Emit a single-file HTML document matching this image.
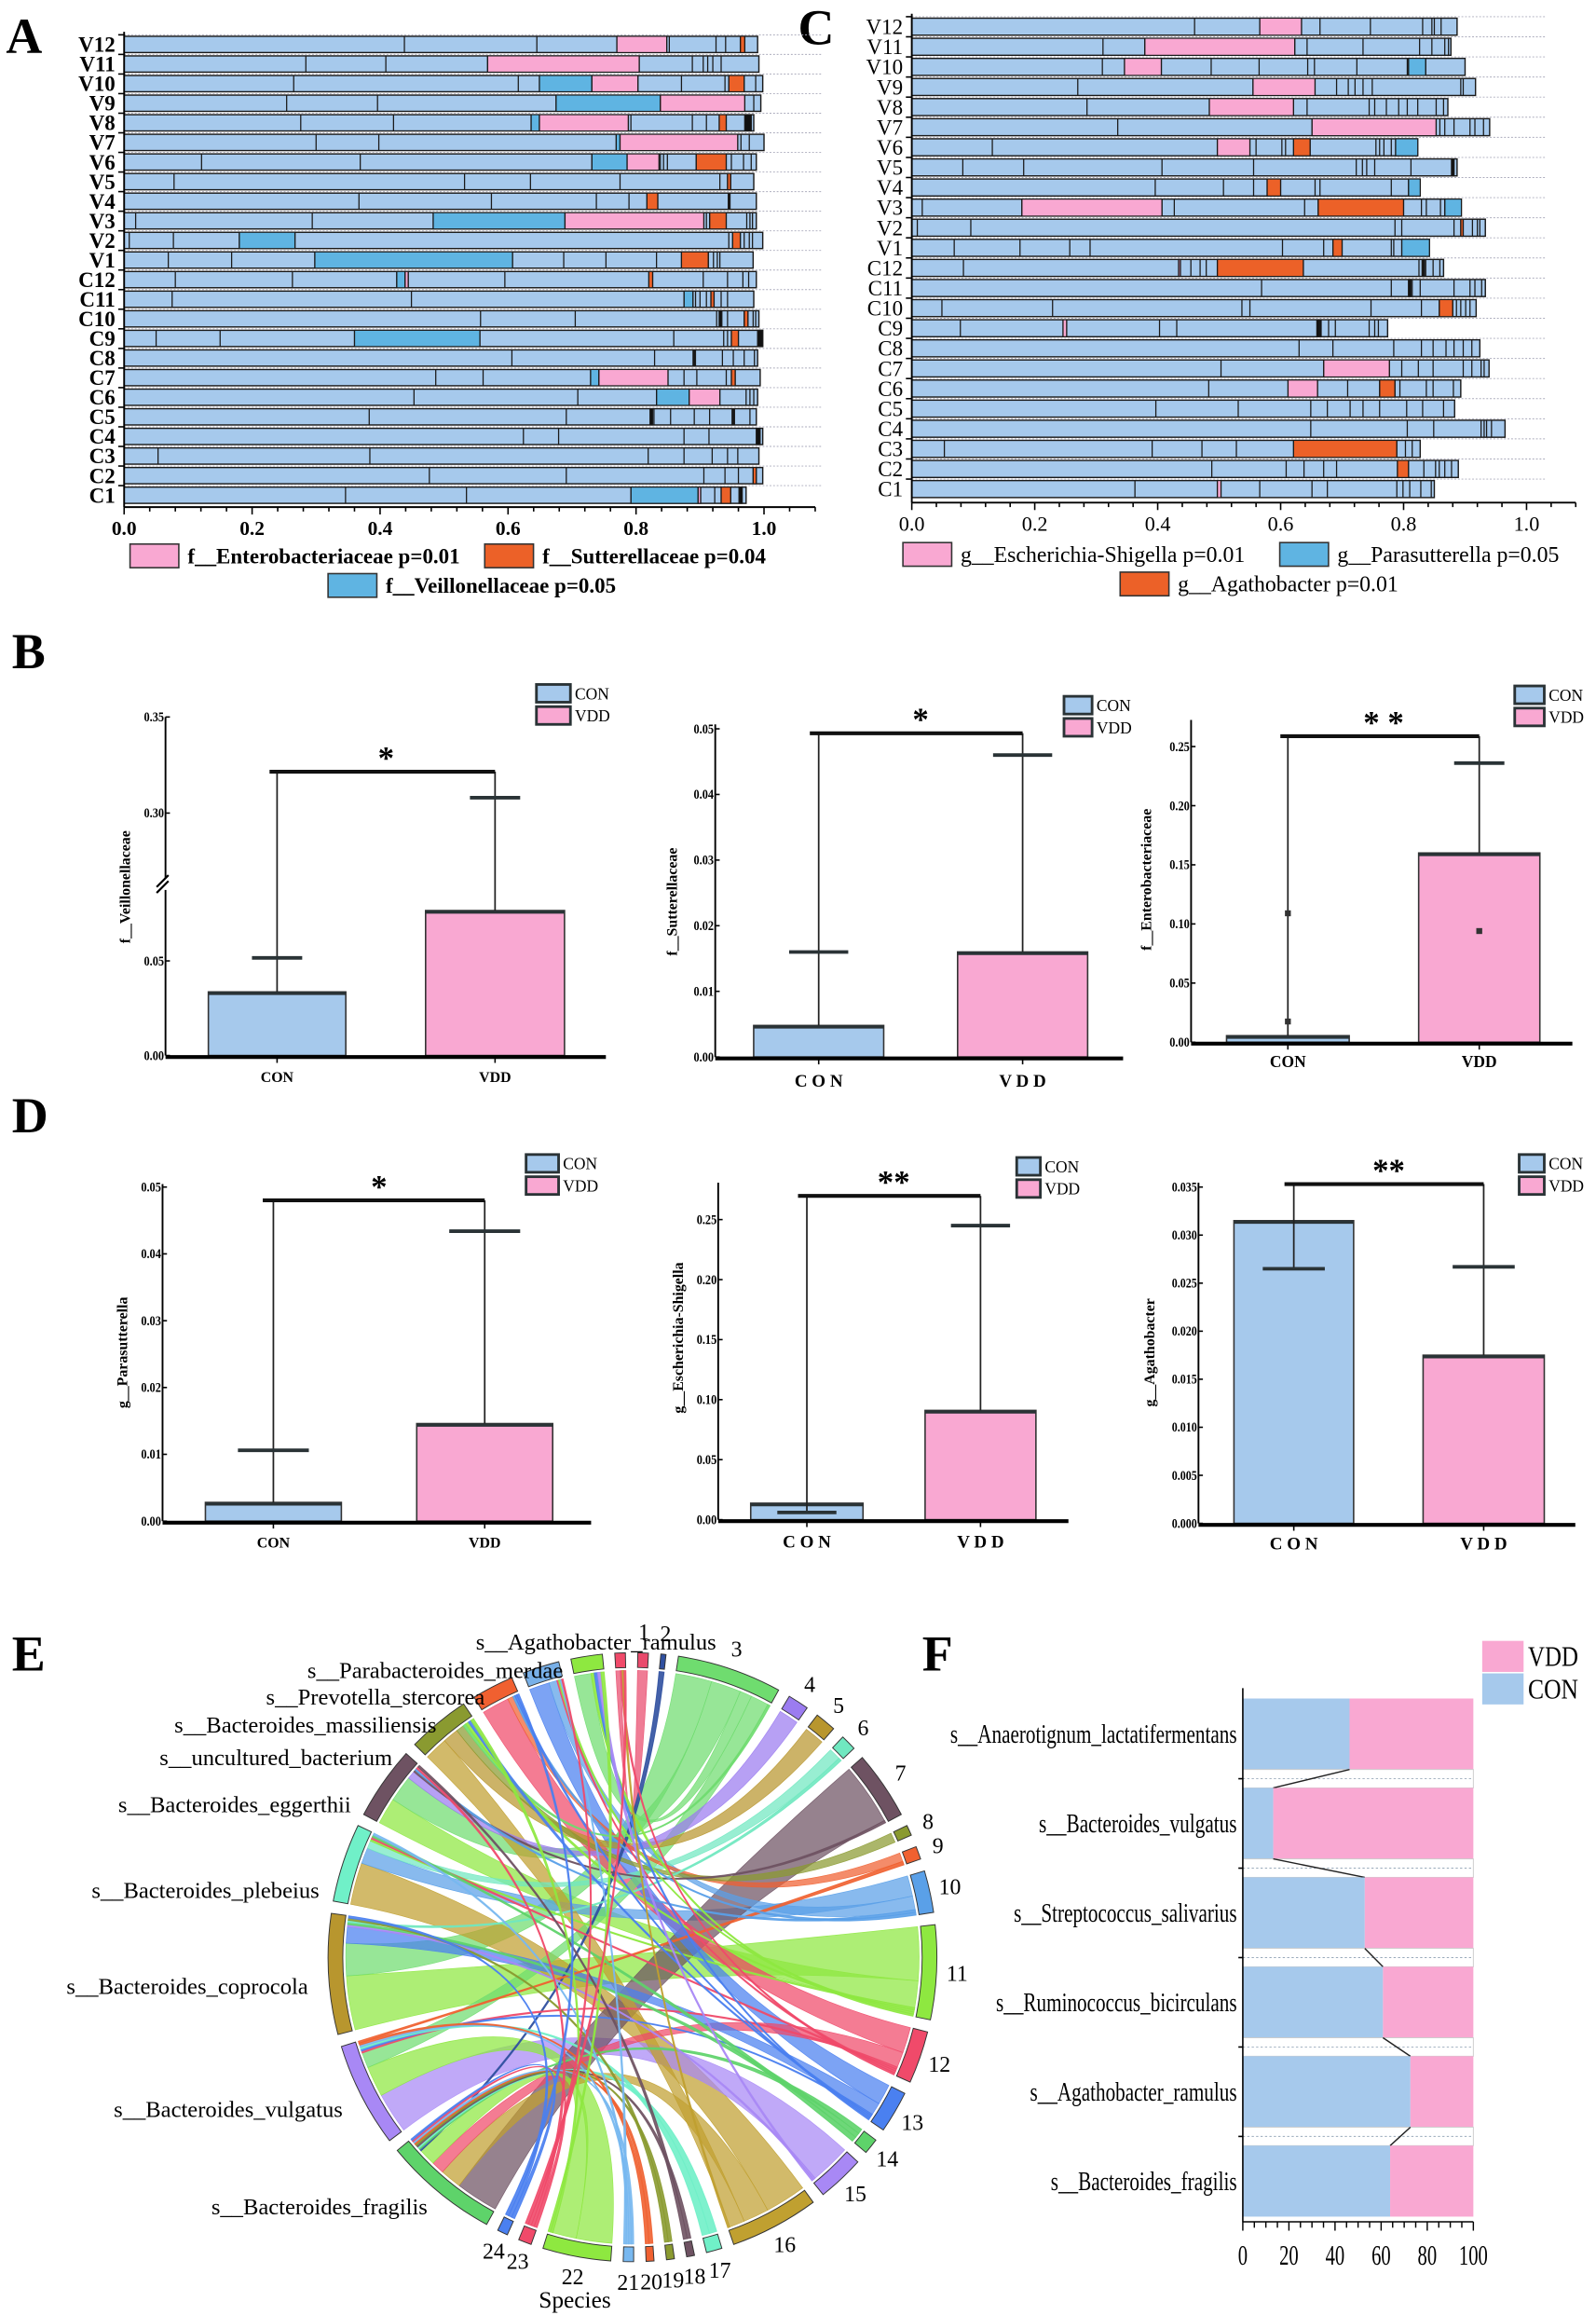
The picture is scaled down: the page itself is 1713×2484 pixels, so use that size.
<!DOCTYPE html>
<html><head><meta charset="utf-8"><title>Figure</title>
<style>
html,body{margin:0;padding:0;background:#fff;}
svg{display:block;font-family:"Liberation Serif",serif;}
</style></head>
<body>
<svg id="fig" xmlns="http://www.w3.org/2000/svg" width="1713" height="2484" viewBox="0 0 1080 1566">
<rect x="0" y="0" width="1080" height="1566" fill="#fff"/>
</svg>
<script>
// ---------------- Panel A data ----------------
const rowsA = ['V12','V11','V10','V9','V8','V7','V6','V5','V4','V3','V2','V1','C12','C11','C10','C9','C8','C7','C6','C5','C4','C3','C2','C1'];
const endA = [0.99,0.992,0.998,0.995,0.984,1.0,0.988,0.984,0.988,0.988,0.998,0.983,0.988,0.984,0.992,0.998,0.99,0.994,0.99,0.988,0.998,0.992,0.998,0.972];
const cutsA = [
 [0.438,0.645,0.77,0.848,0.852,0.925,0.94,0.963,0.97],
 [0.284,0.409,0.568,0.805,0.888,0.905,0.912,0.92,0.933],
 [0.265,0.616,0.649,0.731,0.803,0.871,0.939,0.945,0.969,0.987],
 [0.254,0.396,0.675,0.838,0.97,0.984],
 [0.276,0.421,0.636,0.649,0.788,0.792,0.888,0.91,0.93,0.941,0.97,0.98],
 [0.3,0.398,0.769,0.775,0.959,0.964,0.977],
 [0.121,0.369,0.731,0.786,0.836,0.838,0.843,0.849,0.894,0.941,0.949,0.968,0.98],
 [0.078,0.532,0.635,0.775,0.931,0.943,0.948],
 [0.367,0.574,0.738,0.789,0.817,0.834,0.945],
 [0.018,0.294,0.483,0.689,0.906,0.91,0.915,0.941,0.973,0.978,0.982],
 [0.008,0.077,0.18,0.267,0.945,0.951,0.963,0.969,0.977,0.982],
 [0.069,0.168,0.298,0.607,0.687,0.753,0.832,0.871,0.913,0.921,0.927,0.931],
 [0.08,0.263,0.426,0.439,0.444,0.595,0.82,0.826,0.905,0.943,0.967,0.976],
 [0.075,0.449,0.875,0.889,0.893,0.9,0.91,0.917,0.922,0.933,0.943],
 [0.557,0.705,0.926,0.93,0.934,0.943,0.969,0.975,0.983,0.987],
 [0.05,0.15,0.36,0.556,0.859,0.937,0.943,0.949,0.96,0.99],
 [0.606,0.829,0.891,0.935,0.952,0.969,0.985],
 [0.487,0.561,0.729,0.742,0.85,0.875,0.895,0.941,0.949,0.955],
 [0.453,0.709,0.832,0.883,0.931,0.972,0.978,0.984],
 [0.383,0.691,0.822,0.828,0.854,0.891,0.915,0.952,0.978],
 [0.624,0.679,0.875,0.914,0.988],
 [0.053,0.384,0.819,0.875,0.919,0.943,0.959],
 [0.477,0.691,0.906,0.939,0.96,0.983,0.988],
 [0.346,0.535,0.792,0.897,0.901,0.923,0.933,0.948,0.961]
];
const hiA = [
 [['p',0.77,0.848],['o',0.963,0.97]],
 [['p',0.568,0.805]],
 [['b',0.649,0.731],['p',0.731,0.803],['o',0.945,0.969]],
 [['b',0.675,0.838],['p',0.838,0.97]],
 [['b',0.636,0.649],['p',0.649,0.788],['o',0.93,0.941],['k',0.97,0.98]],
 [['b',0.769,0.775],['p',0.775,0.959]],
 [['b',0.731,0.786],['p',0.786,0.836],['o',0.894,0.941]],
 [['o',0.943,0.948]],
 [['o',0.817,0.834],['k',0.944,0.947]],
 [['b',0.483,0.689],['p',0.689,0.906],['o',0.915,0.941]],
 [['b',0.18,0.267],['o',0.951,0.963]],
 [['b',0.298,0.607],['o',0.871,0.913]],
 [['b',0.426,0.439],['p',0.439,0.444],['o',0.82,0.826]],
 [['b',0.875,0.889],['o',0.917,0.922]],
 [['k',0.93,0.934],['o',0.969,0.975]],
 [['b',0.36,0.556],['o',0.949,0.96],['k',0.99,0.998]],
 [['k',0.889,0.893]],
 [['b',0.729,0.742],['p',0.742,0.85],['o',0.949,0.955]],
 [['b',0.832,0.883],['p',0.883,0.931]],
 [['k',0.822,0.826],['k',0.95,0.954]],
 [['k',0.988,0.994]],
 [],
 [['o',0.983,0.988]],
 [['b',0.792,0.897],['p',0.897,0.901],['o',0.933,0.948],['k',0.961,0.966]]
];
// ---------------- Panel C data ----------------
const endC = [0.887,0.877,0.9,0.917,0.872,0.94,0.823,0.887,0.827,0.894,0.933,0.842,0.865,0.933,0.918,0.774,0.924,0.939,0.893,0.883,0.965,0.827,0.889,0.85];
const cutsC = [
 [0.46,0.566,0.634,0.664,0.746,0.831,0.846,0.85,0.861],
 [0.311,0.379,0.623,0.643,0.734,0.826,0.846,0.867,0.873],
 [0.31,0.346,0.406,0.487,0.565,0.644,0.655,0.724,0.806,0.808,0.836],
 [0.27,0.555,0.656,0.691,0.71,0.721,0.734,0.749,0.893,0.897],
 [0.285,0.484,0.621,0.643,0.744,0.753,0.772,0.792,0.806,0.823,0.853,0.865],
 [0.335,0.651,0.853,0.859,0.867,0.882,0.908,0.916,0.93],
 [0.131,0.497,0.55,0.56,0.602,0.608,0.621,0.648,0.755,0.761,0.768,0.78,0.787],
 [0.083,0.182,0.407,0.556,0.723,0.733,0.74,0.753,0.812,0.878,0.882],
 [0.396,0.507,0.556,0.578,0.6,0.656,0.664,0.78,0.808],
 [0.017,0.179,0.407,0.427,0.639,0.661,0.8,0.829,0.837,0.86,0.867],
 [0.009,0.096,0.786,0.797,0.882,0.893,0.897,0.912,0.92,0.924],
 [0.069,0.176,0.257,0.29,0.603,0.67,0.685,0.7,0.78,0.784,0.797],
 [0.084,0.434,0.437,0.454,0.469,0.479,0.497,0.637,0.825,0.831,0.836,0.848,0.859],
 [0.569,0.78,0.808,0.814,0.827,0.882,0.908,0.916,0.927],
 [0.049,0.229,0.537,0.55,0.747,0.829,0.858,0.88,0.886,0.893,0.901,0.908],
 [0.079,0.246,0.252,0.403,0.431,0.659,0.663,0.678,0.689,0.744,0.753,0.759],
 [0.63,0.685,0.784,0.829,0.848,0.869,0.882,0.897,0.911],
 [0.503,0.67,0.777,0.797,0.824,0.848,0.897,0.911,0.926,0.931],
 [0.483,0.612,0.66,0.709,0.761,0.786,0.794,0.837,0.848,0.881],
 [0.397,0.531,0.649,0.676,0.713,0.734,0.761,0.805,0.831,0.865],
 [0.649,0.806,0.849,0.926,0.931,0.935,0.943],
 [0.053,0.391,0.472,0.528,0.621,0.789,0.803,0.814],
 [0.488,0.609,0.638,0.67,0.691,0.79,0.808,0.833,0.852,0.858,0.867,0.878],
 [0.363,0.497,0.503,0.566,0.651,0.676,0.789,0.799,0.81,0.828,0.845]
];
const hiC = [
 [['p',0.566,0.634]],
 [['p',0.379,0.623]],
 [['p',0.346,0.406],['b',0.808,0.836]],
 [['p',0.555,0.656]],
 [['p',0.484,0.621]],
 [['p',0.651,0.853]],
 [['p',0.497,0.55],['o',0.621,0.648],['b',0.787,0.823]],
 [['k',0.878,0.882]],
 [['o',0.578,0.6],['b',0.808,0.827]],
 [['p',0.179,0.407],['o',0.661,0.8],['b',0.867,0.894]],
 [['o',0.893,0.897]],
 [['o',0.685,0.7],['b',0.797,0.842]],
 [['p',0.434,0.437],['o',0.497,0.637],['k',0.83,0.834]],
 [['k',0.808,0.812]],
 [['o',0.858,0.88]],
 [['p',0.246,0.252],['k',0.659,0.666]],
 [],
 [['p',0.67,0.777]],
 [['p',0.612,0.66],['o',0.761,0.786]],
 [],
 [],
 [['o',0.621,0.789]],
 [['o',0.79,0.808]],
 [['p',0.497,0.503]]
];
// ---------------- Panel B / D data ----------------
const groups = ['CON','VDD'];
const b1Means = [0.0336,0.0766];
const b1Caps = [0.0516,0.308];
const b1Ticks = [0,0.05,0.30,0.35];
const b1TickLabels = ['0.00','0.05','0.30','0.35'];
const b2Means = [0.0048,0.016];
const b2Caps = [0.016,0.046];
const b2Ticks = [0,0.01,0.02,0.03,0.04,0.05];
const b2TickLabels = ['0.00','0.01','0.02','0.03','0.04','0.05'];
const b3Means = [0.0055,0.16];
const b3Caps = [null,0.236];
const b3PointGroup = [0,0,1];
const b3PointValue = [0.109,0.0175,0.094];
const b3Ticks = [0,0.05,0.10,0.15,0.20,0.25];
const b3TickLabels = ['0.00','0.05','0.10','0.15','0.20','0.25'];
const d1Means = [0.0028,0.0146];
const d1Caps = [0.0106,0.0434];
const d1Ticks = [0,0.01,0.02,0.03,0.04,0.05];
const d1TickLabels = ['0.00','0.01','0.02','0.03','0.04','0.05'];
const d2Means = [0.0137,0.091];
const d2Caps = [0.006,0.245];
const d2Ticks = [0,0.05,0.10,0.15,0.20,0.25];
const d2TickLabels = ['0.00','0.05','0.10','0.15','0.20','0.25'];
const d3Means = [0.0315,0.0175];
const d3Caps = [0.0265,0.0267];
const d3Ticks = [0,0.005,0.010,0.015,0.020,0.025,0.030,0.035];
const d3TickLabels = ['0.000','0.005','0.010','0.015','0.020','0.025','0.030','0.035'];
// ---------------- Panel E data ----------------
const chordNumbers = ['1','2','3','4','5','6','7','8','9','10','11','12','13','14','15','16','17','18','19','20','21','22','23','24'];
const chordNumberSizes = [2,1,20,4,4,3,13,2,2.5,8,18,10,8,3,9,17,3,1.5,1.5,1.5,2,13,2.5,2];
const chordSpecies = ['s__Agathobacter_ramulus','s__Parabacteroides_merdae','s__Prevotella_stercorea','s__Bacteroides_massiliensis','s__uncultured_bacterium','s__Bacteroides_eggerthii','s__Bacteroides_plebeius','s__Bacteroides_coprocola','s__Bacteroides_vulgatus','s__Bacteroides_fragilis'];
const chordSpeciesSizes = [2,6,7,8,12,14,15,23,20,22];
const linkSrc = [7,5,7,5,6,6,8,8,9,9,3,2,4,1,8,9,7,4,2,6,5,9,0,3,4,
 9,9,9,9,9,9,9,9,9,8,8,8,8,8,8,7,7,7,7,7,6,6,6,6,5,5,5,5,4,4,4,4,3,3,3,2,2,2,2,1,1,1,1,0,0,0];
const linkTgt = [11,11,3,3,16,10,15,22,7,16,12,13,16,3,3,12,13,5,10,6,4,22,1,9,8,
 2,14,17,18,19,20,21,23,24,12,13,17,21,20,9,15,14,6,19,24,11,12,14,21,7,10,23,18,3,11,13,22,10,13,24,12,11,21,23,11,13,15,22,12,16,23];
const linkVal = [10,5,6,5,8,3,8,6,10,5,5,5,3,2,3,3,3,2,2,1.5,1.5,4,1,1,1,
 0.4,0.4,0.4,0.4,0.4,0.4,0.4,0.4,0.4,0.4,0.4,0.4,0.4,0.4,0.4,0.4,0.4,0.4,0.4,0.4,0.4,0.4,0.4,0.4,0.4,0.4,0.4,0.4,0.4,0.4,0.4,0.4,0.4,0.4,0.4,0.4,0.4,0.4,0.4,0.4,0.4,0.4,0.4,0.4,0.4,0.4];
// ---------------- Panel F data ----------------
const fSpecies = ['s__Anaerotignum_lactatifermentans','s__Bacteroides_vulgatus','s__Streptococcus_salivarius','s__Ruminococcus_bicirculans','s__Agathobacter_ramulus','s__Bacteroides_fragilis'];
const fCon = [46.3,13.2,52.9,60.8,72.7,63.9];
const fTicks = [0,20,40,60,80,100];

// ---------------- helpers ----------------
const NS='http://www.w3.org/2000/svg';
const svg=document.getElementById('fig');
function mk(tag,a,parent){const e=document.createElementNS(NS,tag);for(const k in a)e.setAttribute(k,a[k]);(parent||svg).appendChild(e);return e;}
function tx(s,a,parent){const e=mk('text',a,parent);e.textContent=s;return e;}
const segColor={p:'#f9a8d2',o:'#ec6128',b:'#5fb4e2',k:'#111'};
const LB='#a6c9ec', PK='#f9a8d2';

// panel letters
[['A',4,36],['C',540,30],['B',8,452],['D',8,766],['E',8,1130],['F',624,1130]].forEach(p=>{
  const t=tx(p[0],{x:p[1],y:p[2],'font-size':34,'font-weight':'bold',fill:'#000'});
  
  
});

// ---------------- stacked bars ----------------
function drawStack(cfg,rows,ends,cuts,his){
  const g=mk('g',{});
  
  
  const sx=v=>cfg.x0+v*(cfg.x1-cfg.x0);
  rows.forEach((r,i)=>{
    const yc=cfg.y0+i*cfg.dy, top=yc-cfg.h/2;
    const dl=mk('line',{x1:sx(0),x2:cfg.gridEnd,y1:top-1,y2:top-1,stroke:'#aab','stroke-width':0.6,'stroke-dasharray':'1.2,1.2'},g);
    
    
    const bar=mk('rect',{x:sx(0),y:top,width:sx(ends[i])-sx(0),height:cfg.h,fill:LB,stroke:'#1a1a1a','stroke-width':0.9},g);
    
    
    his[i].forEach(s=>{
      const sg=mk('rect',{x:sx(s[1]),y:top,width:Math.max(0.6,sx(s[2])-sx(s[1])),height:cfg.h,fill:segColor[s[0]],stroke:'#1a1a1a','stroke-width':0.7},g);
      
      
    });
    cuts[i].forEach(c=>{
      const ln=mk('line',{x1:sx(c),x2:sx(c),y1:top,y2:top+cfg.h,stroke:'#1a1a1a','stroke-width':0.8},g);
      
      
    });
    const lab=tx(r,{x:cfg.labelX,y:yc+5,'text-anchor':'end','font-size':cfg.labelSize,'font-weight':cfg.bold?'bold':'normal'},g);
    
    
    const tk=mk('line',{x1:sx(0)-4,x2:sx(0),y1:top-1,y2:top-1,stroke:'#000','stroke-width':1},g);
    
    
  });
  const ax=mk('line',{x1:sx(0),x2:sx(0),y1:cfg.y0-cfg.h/2-3,y2:cfg.axisY,stroke:'#000','stroke-width':1.2},g);
  
  
  const bx=mk('line',{x1:sx(0),x2:sx(cfg.axisMax),y1:cfg.axisY,y2:cfg.axisY,stroke:'#000','stroke-width':1.2},g);
  
  
  for(let v=0;v<=cfg.axisMax+1e-9;v+=0.04){
    const major=Math.abs(v/0.2-Math.round(v/0.2))<1e-6;
    const t=mk('line',{x1:sx(v),x2:sx(v),y1:cfg.axisY,y2:cfg.axisY+(major?5:3),stroke:'#000','stroke-width':1},g);
    
    
  }
  [0,0.2,0.4,0.6,0.8,1.0].forEach(v=>{
    const t=tx(v.toFixed(1),{x:sx(v),y:cfg.axisY+19,'text-anchor':'middle','font-size':cfg.tickSize,'font-weight':cfg.bold?'bold':'normal'},g);
    
    
  });
  cfg.legend.forEach(L=>{
    const r=mk('rect',{x:L[0],y:L[1],width:33,height:16,fill:segColor[L[2]],stroke:'#333','stroke-width':1},g);
    
    
    const t=tx(L[3],{x:L[0]+39,y:L[1]+13,'font-size':cfg.legendSize,'font-weight':cfg.bold?'bold':'normal'},g);
    
    
  });
}
drawStack({name:'panel-a-stacked-bars',x0:84,x1:517,y0:30,dy:13.26,h:11,labelX:78,labelSize:14.5,bold:true,gridEnd:556,axisY:343,axisMax:1.08,tickSize:13.5,legendSize:14.5,
  legend:[[88,368,'p','f__Enterobacteriaceae p=0.01'],[328,368,'o','f__Sutterellaceae p=0.04'],[222,388,'b','f__Veillonellaceae p=0.05']]},rowsA,endA,cutsA,hiA);
drawStack({name:'panel-c-stacked-bars',x0:617,x1:1033,y0:18,dy:13.6,h:11.5,labelX:611,labelSize:14.5,bold:false,gridEnd:1046,axisY:340,axisMax:1.08,tickSize:14,legendSize:15,
  legend:[[611,367,'p','g__Escherichia-Shigella p=0.01'],[866,367,'b','g__Parasutterella p=0.05'],[758,387,'o','g__Agathobacter p=0.01']]},rowsA,endC,cutsC,hiC);

// ---------------- bar charts ----------------
function drawBar(L,means,caps,ticks,tickLabels,ys){
  const g=mk('g',{});
  
  
  const y0=ys(0);
  means.forEach((m,i)=>{
    const b=L.bars[i];
    const r=mk('rect',{x:b[0],y:ys(m),width:b[1]-b[0],height:y0-ys(m),fill:i?PK:LB,stroke:'#333','stroke-width':1},g);
    
    
    const tl=mk('line',{x1:b[0],x2:b[1],y1:ys(m)+1,y2:ys(m)+1,stroke:'#2a3336','stroke-width':2.2},g);
    
    
    const xl=tx(groups[i].split('').join(L.spaced?' ':''),{x:(b[0]+b[1])/2,y:L.labelY,'text-anchor':'middle','font-size':L.lblSize,'font-weight':'bold'},g);
    
    
  });
  // whiskers and caps (drawn over bars)
  means.forEach((m,i)=>{
    const b=L.bars[i];
    const cx=(b[0]+b[1])/2;
    let low=ys(m); if(caps[i]!=null) low=Math.max(low,ys(caps[i]));
    const v=mk('line',{x1:cx,x2:cx,y1:L.bracketY,y2:low,stroke:'#222','stroke-width':1.1},g);
    
    
    if(caps[i]!=null){
      const c=mk('line',{x1:cx-L.capW,x2:cx+L.capW,y1:ys(caps[i]),y2:ys(caps[i]),stroke:'#2a3336','stroke-width':2.4},g);
      
      
    }
  });
  const bl=mk('line',{x1:(L.bars[0][0]+L.bars[0][1])/2-L.capW*0.3,x2:(L.bars[1][0]+L.bars[1][1])/2,y1:L.bracketY,y2:L.bracketY,stroke:'#111','stroke-width':2.6},g);
  
  
  const st=tx(L.star,{x:((L.bars[0][0]+L.bars[0][1])/2+(L.bars[1][0]+L.bars[1][1])/2)/2,y:L.bracketY-2,'text-anchor':'middle','font-size':22,'font-weight':'bold'},g);
  
  
  const ya=mk('line',{x1:L.ax,x2:L.ax,y1:L.yTop,y2:y0,stroke:'#000','stroke-width':1.2},g);
  
  
  const xa=mk('line',{x1:L.ax,x2:L.axEnd,y1:y0+1,y2:y0+1,stroke:'#000','stroke-width':2.6},g);
  
  
  ticks.forEach((t,i)=>{
    const tk=mk('line',{x1:L.ax,x2:L.ax+3,y1:ys(t),y2:ys(t),stroke:'#000','stroke-width':1},g);
    
    
    const tl=tx(tickLabels[i],{x:L.ax-1,y:ys(t)+3,'text-anchor':'end','font-size':9,'font-weight':'bold',textLength:tickLabels[i].length*3.4,lengthAdjust:'spacingAndGlyphs'},g);
    
    
  });
  L.bars.forEach(b=>{
    const t=mk('line',{x1:(b[0]+b[1])/2,x2:(b[0]+b[1])/2,y1:y0,y2:y0+5,stroke:'#000','stroke-width':1},g);
    
    
  });
  const yl=tx(L.ylabel,{x:0,y:0,'text-anchor':'middle','font-size':10,'font-weight':'bold',transform:`translate(${L.ylX},${L.ylY}) rotate(-90)`},g);
  
  
  groups.forEach((gname,i)=>{
    const r=mk('rect',{x:L.leg[0],y:L.leg[1]+i*15,width:L.leg[2],height:12,fill:i?PK:LB,stroke:'#2a3336','stroke-width':1.8},g);
    
    
    const t=tx(gname,{x:L.leg[0]+L.leg[2]+3,y:L.leg[1]+i*15+10,'font-size':11},g);
    
    
  });
  return g;
}
const linScale=(v0pix,perUnit)=>v=>v0pix-v*perUnit;
const b1Scale=v=> v<=0.15 ? 714-v*1280 : 550-(v-0.30)*1300;
const gB1=drawBar({name:'panel-b-veillonellaceae',ax:112,axEnd:410,yTop:485,bars:[[141,234],[288,382]],capW:17,bracketY:522,star:'*',labelY:732,lblSize:10,spaced:false,ylabel:'f__Veillonellaceae',ylX:88,ylY:600,leg:[363,463,23]},b1Means,b1Caps,b1Ticks,b1TickLabels,b1Scale);
const brkBg=mk('rect',{x:109,y:594,width:6,height:8,fill:'#fff'},gB1);


const brk=mk('path',{d:'M106 604 L114 596 M106 600 L114 592',stroke:'#000','stroke-width':1.4,fill:'none'},gB1);


drawBar({name:'panel-b-sutterellaceae',ax:484,axEnd:760,yTop:490,bars:[[510,598],[648,736]],capW:20,bracketY:496,star:'*',labelY:735,lblSize:12,spaced:true,ylabel:'f__Sutterellaceae',ylX:458,ylY:610,leg:[720,471,19]},b2Means,b2Caps,b2Ticks,b2TickLabels,linScale(715,4440));
const gB3=drawBar({name:'panel-b-enterobacteriaceae',ax:806,axEnd:1064,yTop:487,bars:[[830,913],[960,1042]],capW:17,bracketY:498,star:'* *',labelY:722,lblSize:11,spaced:false,ylabel:'f__Enterobacteriaceae',ylX:779,ylY:595,leg:[1025,464,20]},b3Means,b3Caps,b3Ticks,b3TickLabels,linScale(705,800));
b3PointValue.forEach((v,i)=>{
  const xs=[871.5,1001];
  const p=mk('rect',{x:xs[b3PointGroup[i]]-2,y:705-v*800-2,width:4,height:4,fill:'#333'},gB3);
  
  
});
drawBar({name:'panel-d-parasutterella',ax:110,axEnd:400,yTop:801,bars:[[139,231],[282,374]],capW:24,bracketY:812,star:'*',labelY:1047,lblSize:10,spaced:false,ylabel:'g__Parasutterella',ylX:86,ylY:915,leg:[356,781,22]},d1Means,d1Caps,d1Ticks,d1TickLabels,linScale(1029,4520));
drawBar({name:'panel-d-escherichia-shigella',ax:486,axEnd:723,yTop:800,bars:[[508,584],[626,701]],capW:20,bracketY:809,star:'**',labelY:1047,lblSize:12,spaced:true,ylabel:'g__Escherichia-Shigella',ylX:462,ylY:905,leg:[688,783,16]},d2Means,d2Caps,d2Ticks,d2TickLabels,linScale(1028,812));
drawBar({name:'panel-d-agathobacter',ax:811,axEnd:1066,yTop:800,bars:[[835,916],[963,1045]],capW:21,bracketY:801,star:'**',labelY:1048,lblSize:12,spaced:true,ylabel:'g__Agathobacter',ylX:781,ylY:915,leg:[1028,781,17]},d3Means,d3Caps,d3Ticks,d3TickLabels,linScale(1030.5,6500));

// ---------------- chord diagram ----------------
(function(){
  const g=mk('g',{});
  
  
  const cx=428, cy=1324, R=194, R2=204;
  const numColors=['#e94a6c','#3050a0','#6fdc6f','#9b7cf0','#b8962e','#70e8c0','#6e5262','#8a9a30','#f06030','#5aa0e8','#8ee840','#f04a6a','#4a80f0','#5ed36a','#a888f5','#c0a030','#70f0c8','#6e5262','#8a9a30','#f06030','#78b8f0','#8ee840','#f04a6a','#4a80f0'];
  const spColors=['#f04a6a','#8ee840','#78b0e8','#f06030','#8a9a30','#6e5262','#70f0c8','#b8962e','#a888f5','#5ed36a'];
  const seq=[];
  chordNumbers.forEach((n,i)=>seq.push({kind:'n',idx:i,size:chordNumberSizes[i],color:numColors[i],label:n}));
  for(let k=chordSpecies.length-1;k>=0;k--) seq.push({kind:'s',idx:k,size:chordSpeciesSizes[k],color:spColors[k],label:chordSpecies[k]});
  const total=seq.reduce((a,s)=>a+s.size,0);
  const gap=(360-total)/seq.length;
  let a=1;
  seq.forEach(s=>{s.a0=a;s.a1=a+s.size;a=s.a1+gap;s.used=0;s.tot=0;});
  const findN=i=>seq.find(s=>s.kind==='n'&&s.idx===i);
  const findS=k=>seq.find(s=>s.kind==='s'&&s.idx===k);
  linkSrc.forEach((s,i)=>{findS(s).tot+=linkVal[i];findN(linkTgt[i]-1).tot+=linkVal[i];});
  const P=(deg,r)=>{const t=deg*Math.PI/180;return [cx+r*Math.sin(t),cy-r*Math.cos(t)];};
  function take(s,v){const w=s.size*v/s.tot;const r=[s.a0+s.used,s.a0+s.used+w];s.used+=w;return r;}
  const f=p=>p[0].toFixed(1)+' '+p[1].toFixed(1);
  linkSrc.forEach((si,i)=>{
    const S=findS(si), T=findN(linkTgt[i]-1);
    const sa=take(S,linkVal[i]), ta=take(T,linkVal[i]);
    const d=`M${f(P(sa[0],R))} A${R} ${R} 0 0 1 ${f(P(sa[1],R))} Q${cx} ${cy} ${f(P(ta[0],R))} A${R} ${R} 0 0 1 ${f(P(ta[1],R))} Q${cx} ${cy} ${f(P(sa[0],R))} Z`;
    const thin=linkVal[i]<1;
    const p=mk('path',{d:d,fill:T.color,'fill-opacity':thin?0.9:0.72,stroke:T.color,'stroke-opacity':0.9,'stroke-width':thin?0.6:0.4},g);
    
    
  });
  seq.forEach(s=>{
    const p0=P(s.a0,R+2),p1=P(s.a1,R+2),p2=P(s.a1,R2+2),p3=P(s.a0,R2+2);
    const large=(s.a1-s.a0)>180?1:0;
    const d=`M${f(p0)} A${R+2} ${R+2} 0 ${large} 1 ${f(p1)} L${f(p2)} A${R2+2} ${R2+2} 0 ${large} 0 ${f(p3)} Z`;
    const arc=mk('path',{d:d,fill:s.color,stroke:'#333','stroke-width':0.6},g);
    
    
    if(s.kind==='n'){
      const m=(s.a0+s.a1)/2;const q=P(m,R2+16);
      const t=tx(s.label,{x:q[0].toFixed(1),y:(q[1]+5).toFixed(1),'text-anchor':'middle','font-size':15},g);
      
      
    }
  });
  const spLabelPos=[[322,1116],[208,1135],[180,1153],[118,1172],[108,1194],[80,1226],[62,1284],[45,1349],[77,1432],[143,1498]];
  chordSpecies.forEach((name,k)=>{
    const t=tx(name,{x:spLabelPos[k][0],y:spLabelPos[k][1],'font-size':15.5},g);
    
    
  });
  const sp=tx('Species',{x:389,y:1561,'text-anchor':'middle','font-size':16},g);
  
  
})();

// ---------------- Panel F ----------------
(function(){
  const g=mk('g',{});
  
  
  const x0=841, x1=997, top0=1149, pitch=60.5, h=48;
  const sx=v=>x0+v*(x1-x0)/100;
  const lens=[194,134,151,163,140,126];
  fSpecies.forEach((s,i)=>{
    const top=top0+i*pitch;
    const rc=mk('rect',{x:sx(0),y:top,width:sx(fCon[i])-sx(0),height:h,fill:LB},g);
    
    
    const rv=mk('rect',{x:sx(fCon[i]),y:top,width:sx(100)-sx(fCon[i]),height:h,fill:PK},g);
    
    
    const t=tx(s,{x:837,y:top+h/2+6,'text-anchor':'end','font-size':18,textLength:lens[i],lengthAdjust:'spacingAndGlyphs'},g);
    
    
    if(i<fSpecies.length-1){
      const gy=top+h;
      const gb=mk('rect',{x:sx(0),y:gy,width:sx(100)-sx(0),height:pitch-h,fill:'#fff',stroke:'#ccc','stroke-width':0.6},g);
      
      
      const dl=mk('line',{x1:sx(0),x2:sx(100),y1:gy+(pitch-h)/2,y2:gy+(pitch-h)/2,stroke:'#9ab','stroke-width':0.6,'stroke-dasharray':'1.5,1.5'},g);
      
      
      const cl=mk('line',{x1:sx(fCon[i]),y1:gy,x2:sx(fCon[i+1]),y2:gy+pitch-h,stroke:'#222','stroke-width':0.9},g);
      
      
      const tk=mk('line',{x1:x0-3,x2:x0,y1:gy+(pitch-h)/2,y2:gy+(pitch-h)/2,stroke:'#000','stroke-width':1},g);
      
      
    }
  });
  const ya=mk('line',{x1:x0,x2:x0,y1:1142,y2:1503,stroke:'#000','stroke-width':1},g);
  
  
  const xa=mk('line',{x1:x0,x2:sx(100),y1:1503,y2:1503,stroke:'#000','stroke-width':1},g);
  
  
  for(let v=0;v<=100;v+=5){
    const t=mk('line',{x1:sx(v),x2:sx(v),y1:1503,y2:1503+(v%20===0?6:4),stroke:'#000','stroke-width':0.9},g);
    
    
  }
  fTicks.forEach(v=>{
    const s=String(v);
    const t=tx(s,{x:sx(v),y:1532,'text-anchor':'middle','font-size':19,textLength:s.length*6.5,lengthAdjust:'spacingAndGlyphs'},g);
    
    
  });
  [['VDD',PK,1110],['CON',LB,1132]].forEach(L=>{
    const r=mk('rect',{x:1003,y:L[2],width:28,height:21,fill:L[1]},g);
    
    
    const t=tx(L[0],{x:1034,y:L[2]+17,'font-size':19,textLength:34,lengthAdjust:'spacingAndGlyphs'},g);
    
    
  });
})();
</script>
</body></html>
